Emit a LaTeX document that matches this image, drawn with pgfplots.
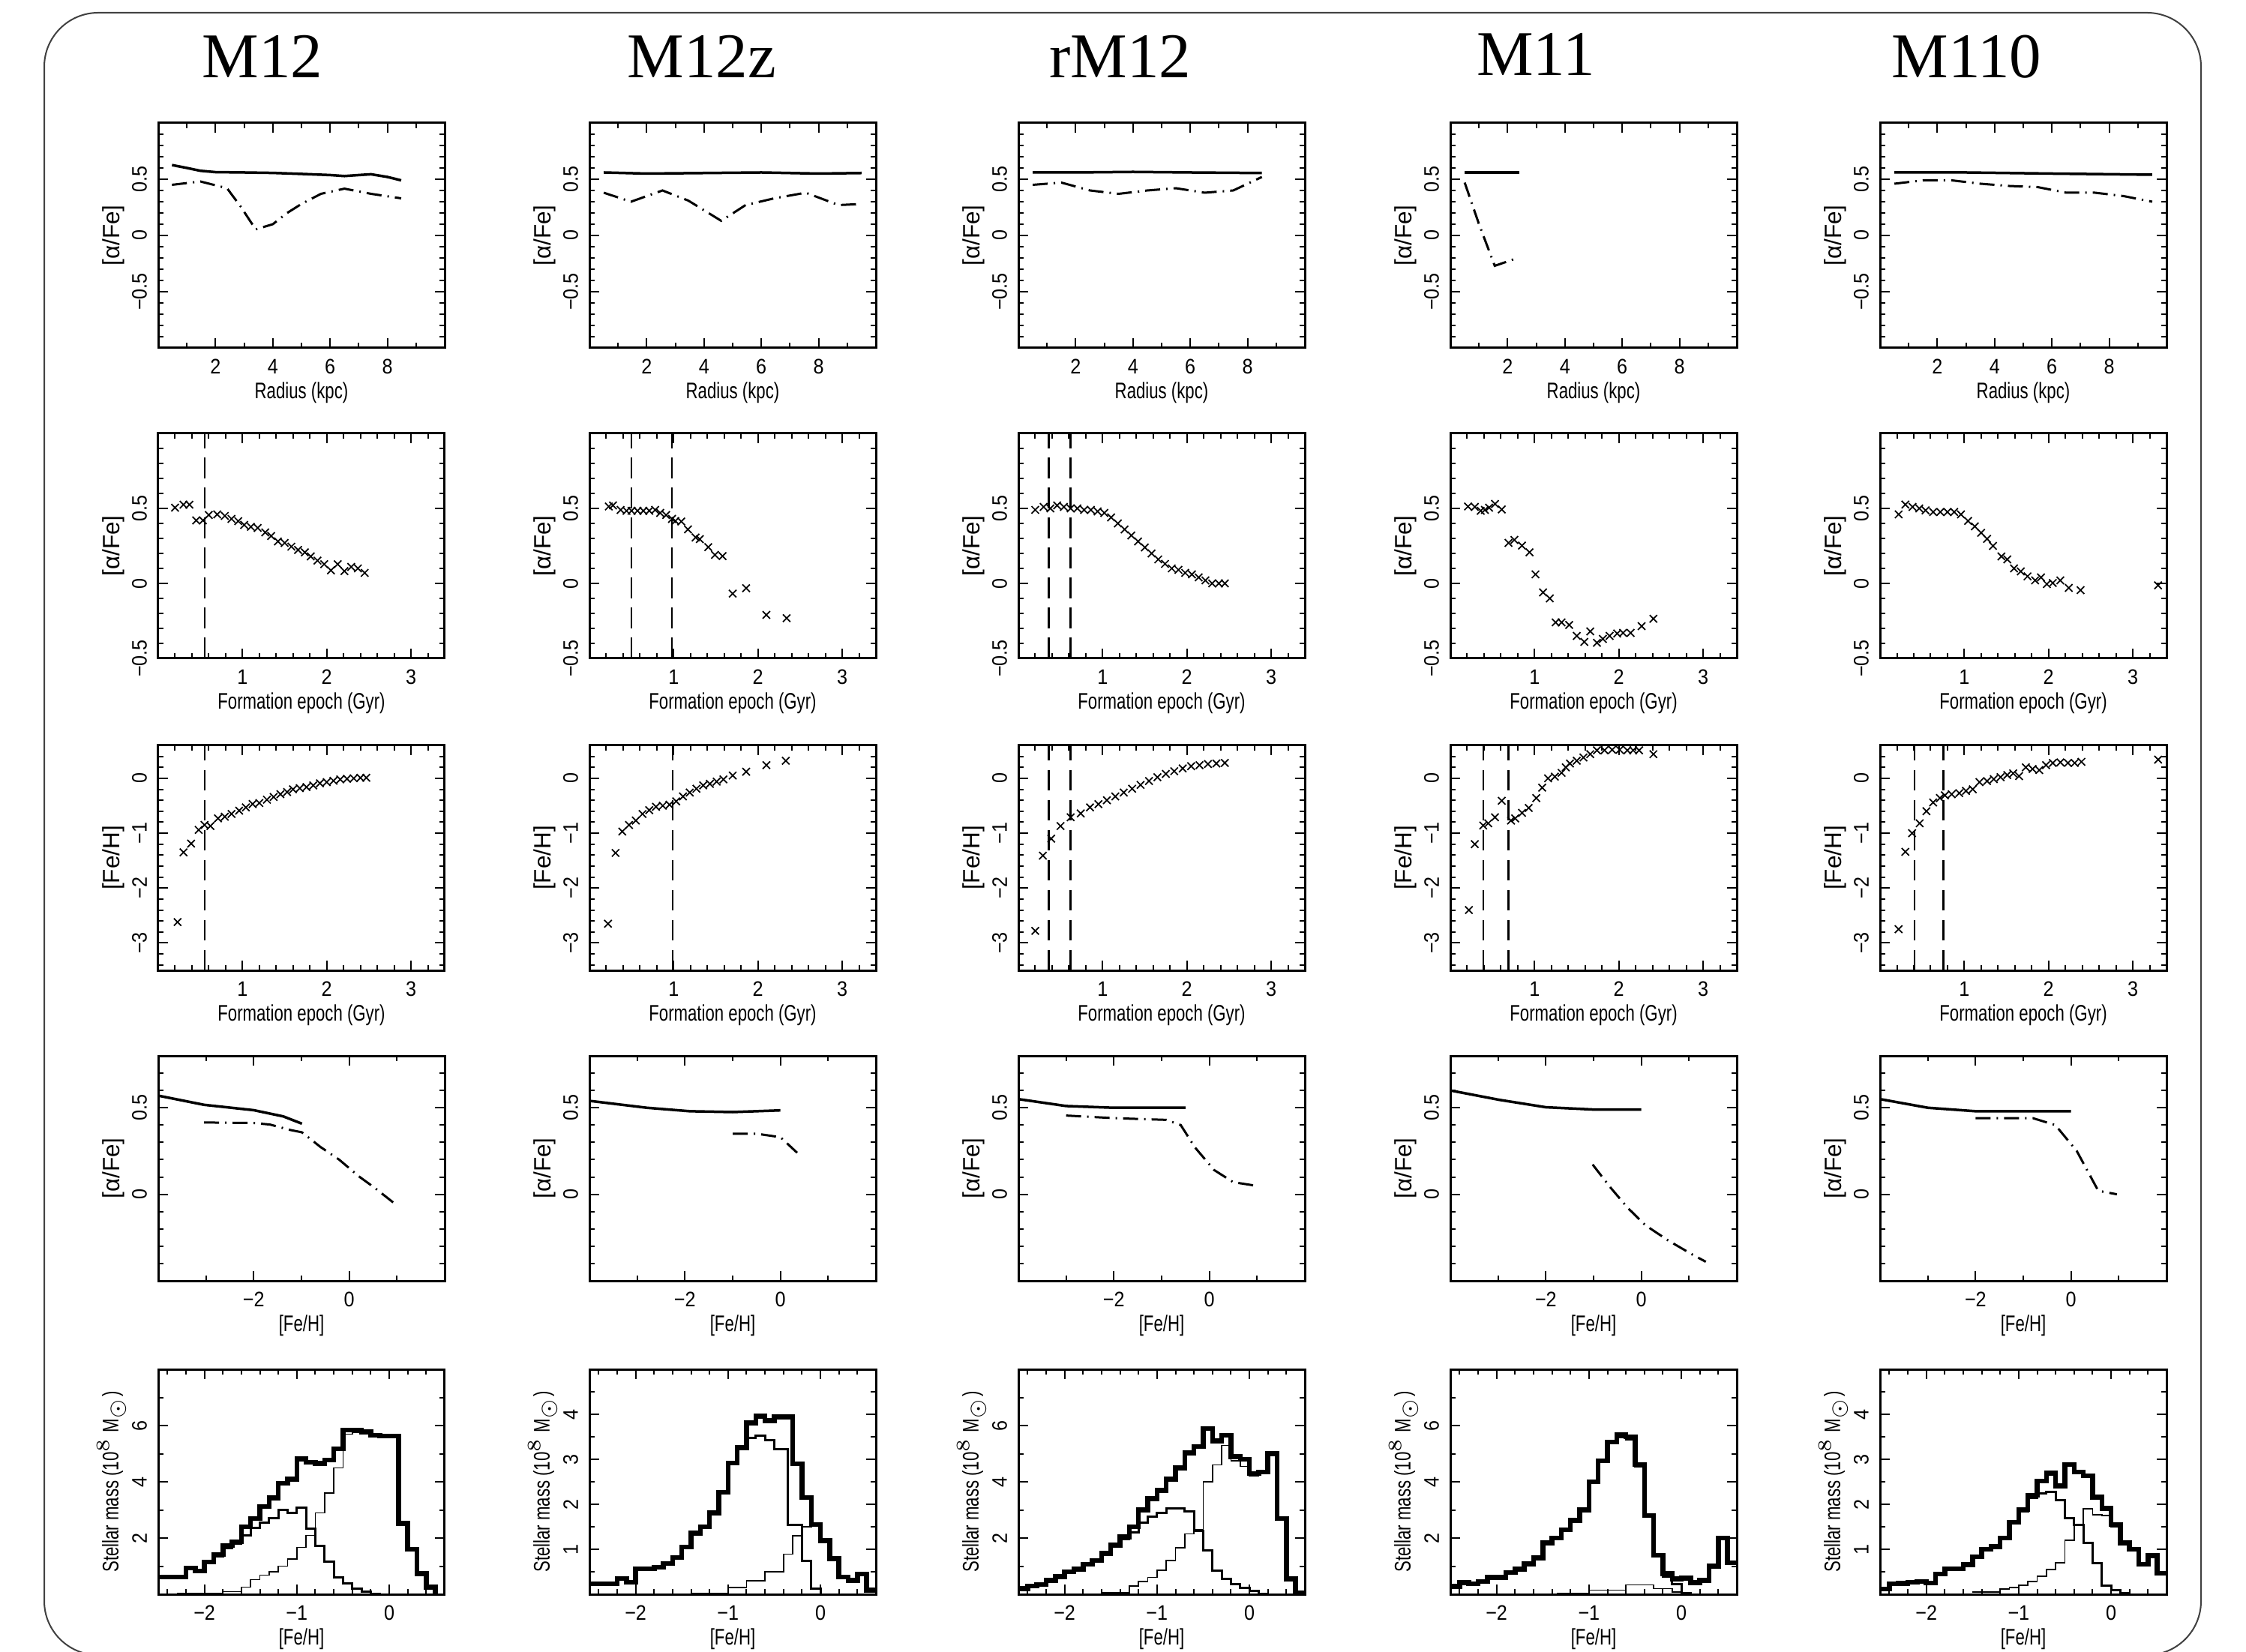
\documentclass[border=0pt]{standalone}
\usepackage{fontspec}
\setmainfont{Liberation Sans}
\newfontfamily\seriffont{Liberation Serif}
\newfontfamily\narrow[FakeStretch=0.74]{Liberation Sans}
\newfontfamily\ticknarrow[FakeStretch=0.9]{Liberation Sans}
\usepackage{pgfplots}
\pgfplotsset{compat=1.18}
\newcommand\tickfont{\ticknarrow\fontsize{5.6}{6}\selectfont}
\newcommand\xlabfont{\narrow\fontsize{6}{7}\selectfont}
\newcommand\ylabfont{\fontsize{6.3}{7}\selectfont}
\def\cA{42.2pt}\def\cB{157.2pt}\def\cC{271.6pt}\def\cD{386.8pt}\def\cE{501.4pt}
\def\rA{-32.8pt}\def\rB{-115.6pt}\def\rC{-198.8pt}\def\rD{-281.6pt}\def\rE{-365.2pt}
\pgfplotsset{
 panel/.style={
   scale only axis, width=76.4pt, height=60pt, anchor=north west,
   axis line style={line width=0.6pt},
   tick style={line width=0.4pt, black},
   major tick length=2.6pt, minor tick length=1.4pt,
   tick align=inside, tick pos=both,
   tick label style={font=\tickfont},
   xticklabel style={anchor=center, yshift=-5pt},
   yticklabel style={xshift=-5pt, rotate=90, anchor=center},
   xlabel style={font=\xlabfont, at={(axis description cs:0.5,0)}, anchor=center, yshift=-12pt},
   ylabel style={font=\ylabfont, at={(axis description cs:-0.155,0.5)}, anchor=center},
   clip=true},
 r1/.style={panel, xmin=0, xmax=10, ymin=-1, ymax=1,
   xtick={2,4,6,8}, xticklabels={2,4,6,8}, minor xtick={1,3,5,7,9},
   ytick={-0.5,0,0.5}, yticklabels={−0.5,0,0.5}, minor ytick={-0.9,-0.8,...,0.95},
   xlabel={Radius (kpc)}, ylabel={[α/Fe]}},
 r2/.style={panel, xmin=0, xmax=3.4, ymin=-0.5, ymax=1,
   xtick={1,2,3}, xticklabels={1,2,3}, minor xtick={0.2,0.4,...,3.3},
   ytick={-0.5,0,0.5}, yticklabels={−0.5,0,0.5}, minor ytick={-0.4,-0.3,...,0.95},
   xlabel={Formation epoch (Gyr)}, ylabel={[α/Fe]}},
 r3/.style={panel, xmin=0, xmax=3.4, ymin=-3.5, ymax=0.6,
   xtick={1,2,3}, xticklabels={1,2,3}, minor xtick={0.2,0.4,...,3.3},
   ytick={-3,-2,-1,0}, yticklabels={−3,−2,−1,0}, minor ytick={-3.4,-3.2,...,0.5},
   xlabel={Formation epoch (Gyr)}, ylabel={[Fe/H]}},
 r4/.style={panel, xmin=-4, xmax=2, ymin=-0.5, ymax=0.8,
   xtick={-2,0}, xticklabels={−2,0}, minor xtick={-3,-1,1},
   ytick={0,0.5}, yticklabels={0,0.5}, minor ytick={-0.4,-0.3,...,0.75},
   xlabel={[Fe/H]}, ylabel={[α/Fe]}},
 r5/.style={panel, xmin=-2.5, xmax=0.6, ymin=0,
   xtick={-2,-1,0}, xticklabels={−2,−1,0}, minor xtick={-2.4,-2.2,...,0.5},
   xlabel={[Fe/H]}, ylabel={Stellar mass (10$^8$ M$_\odot$)},
   ylabel style={font=\narrow\fontsize{6}{7}\selectfont, at={(axis description cs:-0.163,0.5)}}},
 r5a/.style={r5, ymax=8, ytick={2,4,6}, yticklabels={2,4,6}, minor ytick={1,3,5,7}},
 r5b/.style={r5, ymax=5, ytick={1,2,3,4}, yticklabels={1,2,3,4}, minor ytick={0.5,1.5,...,4.6}},
 solidl/.style={black, line width=0.7pt},
 dashdot/.style={black, line width=0.6pt, dash pattern=on 4pt off 1.6pt on 0.4pt off 1.6pt},
 vdash/.style={black, line width=0.5pt, dash pattern=on 5.5pt off 2.5pt},
 crosses/.style={black, only marks, mark=x, mark size=1.4pt, mark options={line width=0.35pt}},
 hthick/.style={black, const plot mark left, line width=1.3pt},
 hmed/.style={black, const plot mark left, line width=0.6pt},
 hthin/.style={black, const plot mark left, line width=0.3pt},
}
\begin{document}
\begin{tikzpicture}
\useasboundingbox (0,0) rectangle (599pt,-440.6pt);
\fill[white] (0,0) rectangle (599pt,-440.6pt);
\draw[black!75, line width=0.4pt, rounded corners=14.4pt] (11.8pt,-3.4pt) rectangle (587pt,-441.4pt);
\begin{scope}[every node/.style={font=\seriffont\fontsize{17}{20}\selectfont, anchor=base}]
\node at (70pt,-20.8pt) {M12};
\node at (187.2pt,-20.8pt) {M12z};
\node at (298.8pt,-20.8pt) {rM12};
\node at (409.6pt,-20.2pt) {M11};
\node at (524.5pt,-20.8pt) {M110};
\end{scope}

% ---------------- Row 1 ----------------
\begin{axis}[r1, at={(\cA,\rA)}]
\addplot[solidl] coordinates {(0.48,0.626) (1.0,0.6) (1.47,0.575) (2,0.563) (3,0.56) (4,0.556) (5,0.547) (6,0.537) (6.5,0.528) (7,0.537) (7.43,0.544) (8,0.52) (8.48,0.49)};
\addplot[dashdot] coordinates {(0.48,0.45) (1.47,0.48) (2.4,0.42) (2.87,0.26) (3.4,0.054) (4.0,0.1) (4.5,0.2) (5.0,0.28) (5.68,0.37) (6.5,0.416) (7.43,0.37) (8.48,0.33)};
\end{axis}
\begin{axis}[r1, at={(\cB,\rA)}]
\addplot[solidl] coordinates {(0.5,0.56) (2,0.55) (4,0.555) (6,0.56) (8,0.55) (9.5,0.555)};
\addplot[dashdot] coordinates {(0.5,0.38) (1.45,0.3) (2.55,0.4) (3.45,0.31) (4.6,0.13) (5.45,0.27) (6.45,0.33) (7.55,0.38) (8.7,0.27) (9.5,0.28)};
\end{axis}
\begin{axis}[r1, at={(\cC,\rA)}]
\addplot[solidl] coordinates {(0.5,0.56) (2,0.56) (4,0.565) (6,0.56) (8.5,0.555)};
\addplot[dashdot] coordinates {(0.5,0.45) (1.5,0.47) (2.5,0.4) (3.5,0.37) (4.5,0.4) (5.5,0.42) (6.5,0.38) (7.5,0.4) (8.5,0.52)};
\end{axis}
\begin{axis}[r1, at={(\cD,\rA)}]
\addplot[solidl] coordinates {(0.5,0.56) (2.4,0.56)};
\addplot[dashdot] coordinates {(0.5,0.47) (1.0,0.1) (1.55,-0.27) (2.35,-0.2)};
\end{axis}
\begin{axis}[r1, at={(\cE,\rA)}]
\addplot[solidl] coordinates {(0.5,0.56) (3,0.56) (6,0.55) (9.5,0.54)};
\addplot[dashdot] coordinates {(0.5,0.46) (1.5,0.49) (2.5,0.49) (3.5,0.46) (4.5,0.44) (5.5,0.43) (6.5,0.38) (7.5,0.38) (8.5,0.35) (9.5,0.3)};
\end{axis}

% ---------------- Row 2 ----------------
\begin{axis}[r2, at={(\cA,\rB)}]
\addplot[vdash] coordinates {(0.55,-0.5) (0.55,1)};
\addplot[crosses] coordinates {(0.2,0.505)(0.3,0.525)(0.37,0.525)(0.45,0.42)(0.53,0.42)(0.6,0.456)(0.7,0.46)(0.79,0.45)(0.87,0.43)(0.95,0.415)(1.02,0.39)(1.1,0.377)(1.18,0.37)(1.27,0.34)(1.34,0.316)(1.42,0.28)(1.5,0.27)(1.58,0.245)(1.66,0.223)(1.74,0.207)(1.81,0.18)(1.89,0.152)(1.97,0.128)(2.05,0.087)(2.13,0.128)(2.21,0.082)(2.29,0.11)(2.37,0.1)(2.45,0.07)};
\end{axis}
\begin{axis}[r2, at={(\cB,\rB)}]
\addplot[vdash] coordinates {(0.5,-0.5) (0.5,1)};
\addplot[vdash] coordinates {(0.98,-0.5) (0.98,1)};
\addplot[crosses] coordinates {(0.23,0.513)(0.28,0.52)(0.37,0.49)(0.44,0.484)(0.5,0.484)(0.57,0.484)(0.64,0.484)(0.71,0.484)(0.78,0.49)(0.84,0.47)(0.91,0.456)(0.98,0.43)(1.02,0.416)(1.09,0.413)(1.17,0.36)(1.26,0.306)(1.31,0.295)(1.41,0.242)(1.49,0.19)(1.58,0.182)(1.7,-0.068)(1.86,-0.032)(2.1,-0.21)(2.34,-0.232)};
\end{axis}
\begin{axis}[r2, at={(\cC,\rB)}]
\addplot[vdash] coordinates {(0.36,-0.5) (0.36,1)};
\addplot[vdash] coordinates {(0.62,-0.5) (0.62,1)};
\addplot[crosses] coordinates {(0.2,0.49)(0.3,0.51)(0.38,0.5)(0.46,0.52)(0.54,0.51)(0.62,0.5)(0.7,0.5)(0.78,0.49)(0.86,0.49)(0.94,0.48)(1.02,0.47)(1.1,0.44)(1.18,0.4)(1.26,0.36)(1.34,0.32)(1.42,0.28)(1.5,0.24)(1.58,0.2)(1.66,0.16)(1.74,0.13)(1.82,0.1)(1.9,0.09)(1.98,0.07)(2.06,0.06)(2.14,0.04)(2.22,0.02)(2.3,0.0)(2.38,0.0)(2.45,0.0)};
\end{axis}
\begin{axis}[r2, at={(\cD,\rB)}]
\addplot[crosses] coordinates {(0.21,0.513)(0.29,0.51)(0.36,0.484)(0.41,0.49)(0.46,0.505)(0.53,0.53)(0.61,0.493)(0.69,0.27)(0.76,0.29)(0.85,0.252)(0.94,0.207)(1.01,0.06)(1.1,-0.06)(1.18,-0.1)(1.25,-0.26)(1.32,-0.26)(1.41,-0.277)(1.5,-0.35)(1.59,-0.39)(1.66,-0.32)(1.74,-0.396)(1.81,-0.37)(1.89,-0.35)(1.98,-0.334)(2.05,-0.33)(2.14,-0.33)(2.27,-0.285)(2.41,-0.236)};
\end{axis}
\begin{axis}[r2, at={(\cE,\rB)}]
\addplot[crosses] coordinates {(0.22,0.46)(0.3,0.526)(0.385,0.51)(0.465,0.5)(0.54,0.487)(0.63,0.476)(0.715,0.476)(0.8,0.476)(0.88,0.476)(0.96,0.46)(1.045,0.416)(1.125,0.38)(1.2,0.337)(1.27,0.297)(1.34,0.25)(1.44,0.18)(1.51,0.16)(1.59,0.1)(1.67,0.08)(1.75,0.047)(1.84,0.02)(1.91,0.04)(1.98,-0.005)(2.05,0.003)(2.14,0.02)(2.24,-0.03)(2.38,-0.045)(3.3,-0.013)};
\end{axis}

% ---------------- Row 3 ----------------
\begin{axis}[r3, at={(\cA,\rC)}]
\addplot[vdash] coordinates {(0.55,-3.5) (0.55,0.6)};
\addplot[crosses] coordinates {(0.23,-2.62)(0.3,-1.35)(0.39,-1.19)(0.48,-0.94)(0.55,-0.85)(0.62,-0.87)(0.71,-0.73)(0.79,-0.7)(0.87,-0.65)(0.96,-0.59)(1.04,-0.53)(1.12,-0.47)(1.2,-0.45)(1.29,-0.39)(1.37,-0.34)(1.45,-0.29)(1.53,-0.25)(1.6,-0.2)(1.68,-0.18)(1.76,-0.16)(1.84,-0.13)(1.92,-0.09)(2.0,-0.07)(2.08,-0.045)(2.16,-0.02)(2.24,-0.01)(2.32,0)(2.4,0.01)(2.47,0.01)};
\end{axis}
\begin{axis}[r3, at={(\cB,\rC)}]
\addplot[vdash] coordinates {(0.99,-3.5) (0.99,0.6)};
\addplot[crosses] coordinates {(0.22,-2.65)(0.31,-1.36)(0.39,-0.97)(0.47,-0.85)(0.55,-0.77)(0.63,-0.65)(0.71,-0.58)(0.79,-0.52)(0.87,-0.5)(0.95,-0.48)(1.03,-0.42)(1.11,-0.33)(1.19,-0.26)(1.27,-0.19)(1.35,-0.13)(1.43,-0.1)(1.51,-0.06)(1.59,-0.02)(1.7,0.05)(1.86,0.12)(2.1,0.24)(2.33,0.32)};
\end{axis}
\begin{axis}[r3, at={(\cC,\rC)}]
\addplot[vdash] coordinates {(0.36,-3.5) (0.36,0.6)};
\addplot[vdash] coordinates {(0.62,-3.5) (0.62,0.6)};
\addplot[crosses] coordinates {(0.2,-2.78)(0.29,-1.41)(0.39,-1.1)(0.5,-0.87)(0.62,-0.71)(0.74,-0.64)(0.85,-0.53)(0.95,-0.47)(1.05,-0.4)(1.15,-0.33)(1.25,-0.26)(1.35,-0.19)(1.45,-0.12)(1.55,-0.05)(1.65,0.02)(1.75,0.08)(1.85,0.13)(1.95,0.18)(2.05,0.22)(2.15,0.24)(2.25,0.26)(2.35,0.27)(2.45,0.28)};
\end{axis}
\begin{axis}[r3, at={(\cD,\rC)}]
\addplot[vdash] coordinates {(0.39,-3.5) (0.39,0.6)};
\addplot[vdash] coordinates {(0.69,-3.5) (0.69,0.6)};
\addplot[crosses] coordinates {(0.22,-2.4)(0.29,-1.2)(0.39,-0.86)(0.45,-0.82)(0.53,-0.71)(0.61,-0.41)(0.72,-0.77)(0.77,-0.73)(0.85,-0.63)(0.93,-0.54)(1.02,-0.36)(1.09,-0.17)(1.16,0)(1.24,0.03)(1.32,0.1)(1.37,0.2)(1.42,0.27)(1.5,0.32)(1.58,0.38)(1.66,0.44)(1.74,0.51)(1.83,0.51)(1.92,0.52)(2.01,0.52)(2.1,0.51)(2.17,0.51)(2.24,0.51)(2.41,0.44)};
\end{axis}
\begin{axis}[r3, at={(\cE,\rC)}]
\addplot[vdash] coordinates {(0.41,-3.5) (0.41,0.6)};
\addplot[vdash] coordinates {(0.75,-3.5) (0.75,0.6)};
\addplot[crosses] coordinates {(0.22,-2.75)(0.3,-1.34)(0.38,-1.0)(0.47,-0.82)(0.55,-0.6)(0.63,-0.44)(0.71,-0.36)(0.77,-0.31)(0.85,-0.29)(0.94,-0.27)(1.02,-0.23)(1.1,-0.2)(1.18,-0.07)(1.27,-0.05)(1.35,-0.015)(1.43,0.02)(1.51,0.06)(1.58,0.09)(1.65,0.04)(1.73,0.2)(1.81,0.17)(1.89,0.15)(1.97,0.24)(2.05,0.28)(2.14,0.29)(2.23,0.28)(2.31,0.28)(2.39,0.3)(3.3,0.34)};
\end{axis}

% ---------------- Row 4 ----------------
\begin{axis}[r4, at={(\cA,\rD)}]
\addplot[solidl] coordinates {(-4,0.57) (-3.04,0.517) (-2,0.486) (-1.38,0.45) (-0.99,0.408)};
\addplot[dashdot] coordinates {(-3.04,0.415) (-2.01,0.412) (-1.66,0.403) (-1.24,0.372) (-0.99,0.358) (-0.6,0.273) (-0.21,0.2) (0.21,0.102) (0.53,0.038) (0.92,-0.047)};
\end{axis}
\begin{axis}[r4, at={(\cB,\rD)}]
\addplot[solidl] coordinates {(-4,0.54) (-2.8,0.5) (-1.9,0.48) (-1,0.475) (0,0.485)};
\addplot[dashdot] coordinates {(-1,0.35) (-0.5,0.35) (0,0.33) (0.35,0.24)};
\end{axis}
\begin{axis}[r4, at={(\cC,\rD)}]
\addplot[solidl] coordinates {(-4,0.55) (-3,0.51) (-2,0.5) (-0.5,0.5)};
\addplot[dashdot] coordinates {(-3,0.455) (-2,0.44) (-0.9,0.43) (-0.6,0.4) (-0.3,0.27) (0.1,0.14) (0.5,0.07) (0.96,0.05)};
\end{axis}
\begin{axis}[r4, at={(\cD,\rD)}]
\addplot[solidl] coordinates {(-4,0.6) (-2.98,0.546) (-2,0.503) (-1.02,0.49) (0,0.49)};
\addplot[dashdot] coordinates {(-1.02,0.172) (-0.65,0.04) (-0.28,-0.08) (0.09,-0.18) (0.58,-0.27) (1.08,-0.35) (1.35,-0.39)};
\end{axis}
\begin{axis}[r4, at={(\cE,\rD)}]
\addplot[solidl] coordinates {(-4,0.55) (-3,0.5) (-2,0.48) (0,0.48)};
\addplot[dashdot] coordinates {(-2,0.44) (-0.8,0.44) (-0.33,0.4) (0.12,0.25) (0.57,0.02) (0.96,0.0)};
\end{axis}

% ---------------- Row 5 ----------------
\begin{axis}[r5a, at={(\cA,\rE)}]
\addplot[hthin] coordinates {(-2.3,0.03) (-1.8,0.1) (-1.6,0.25) (-1.5,0.52) (-1.4,0.68) (-1.3,0.8) (-1.2,1.0) (-1.1,1.25) (-1.0,1.67) (-0.9,2.1) (-0.8,2.9) (-0.7,3.6) (-0.6,4.5) (-0.5,5.7) (-0.4,5.75) (-0.3,5.7) (-0.2,5.6) (-0.1,5.58) (0.0,5.58) (0.1,2.5) (0.2,1.6) (0.3,0.74) (0.4,0.25) (0.5,0)};
\addplot[hmed] coordinates {(-2.5,0.6) (-2.2,0.9) (-2.1,0.8) (-2.0,1.1) (-1.9,1.35) (-1.8,1.65) (-1.7,1.8) (-1.6,2.1) (-1.5,2.36) (-1.4,2.54) (-1.3,2.7) (-1.2,2.99) (-1.1,2.9) (-1.0,3.08) (-0.9,2.34) (-0.8,1.73) (-0.7,1.15) (-0.6,0.61) (-0.5,0.4) (-0.4,0.2) (-0.3,0.1) (-0.2,0.02) (-0.1,0)};
\addplot[hthick] coordinates {(-2.5,0.61) (-2.2,0.94) (-2.1,0.83) (-2.0,1.15) (-1.9,1.42) (-1.8,1.73) (-1.7,1.87) (-1.6,2.4) (-1.5,2.7) (-1.4,3.12) (-1.3,3.43) (-1.2,3.95) (-1.1,4.1) (-1.0,4.82) (-0.9,4.69) (-0.8,4.65) (-0.7,4.78) (-0.6,5.18) (-0.5,5.84) (-0.4,5.84) (-0.3,5.77) (-0.2,5.66) (-0.1,5.63) (0.0,5.63) (0.1,2.52) (0.2,1.6) (0.3,0.74) (0.4,0.25) (0.5,0)};
\end{axis}
\begin{axis}[r5b, at={(\cB,\rE)}]
\addplot[hthin] coordinates {(-1.4,0.02) (-1.0,0.15) (-0.8,0.3) (-0.6,0.5) (-0.4,0.89) (-0.3,1.3) (-0.2,1.5) (-0.1,1.55) (0,1.19) (0.1,0.79) (0.2,0.38) (0.3,0.31) (0.4,0.45) (0.5,0.09) (0.6,0.09)};
\addplot[hmed] coordinates {(-2.5,0.21) (-2.2,0.33) (-2.1,0.25) (-2.0,0.55) (-1.9,0.55) (-1.8,0.58) (-1.7,0.66) (-1.6,0.8) (-1.5,1.03) (-1.4,1.34) (-1.3,1.48) (-1.2,1.79) (-1.1,2.25) (-1.0,2.9) (-0.9,3.22) (-0.8,3.47) (-0.7,3.52) (-0.6,3.42) (-0.5,3.22) (-0.35,1.55) (-0.2,0.75) (-0.1,0.12) (0,0)};
\addplot[hthick] coordinates {(-2.5,0.23) (-2.2,0.35) (-2.1,0.27) (-2.0,0.57) (-1.9,0.57) (-1.8,0.6) (-1.7,0.68) (-1.6,0.82) (-1.5,1.05) (-1.4,1.36) (-1.3,1.5) (-1.2,1.81) (-1.1,2.27) (-1.0,2.92) (-0.9,3.26) (-0.8,3.81) (-0.7,3.96) (-0.6,3.86) (-0.5,3.94) (-0.4,3.94) (-0.3,2.9) (-0.2,2.15) (-0.1,1.55) (0.0,1.19) (0.1,0.79) (0.2,0.38) (0.3,0.31) (0.4,0.45) (0.5,0.09) (0.6,0.09)};
\end{axis}
\begin{axis}[r5a, at={(\cC,\rE)}]
\addplot[hthin] coordinates {(-1.6,0.05) (-1.3,0.3) (-1.2,0.45) (-1.1,0.6) (-1.0,0.85) (-0.9,1.2) (-0.8,1.65) (-0.7,2.15) (-0.6,2.3) (-0.5,4.0) (-0.4,4.6) (-0.3,5.3) (-0.2,4.75) (-0.1,4.55) (0.0,4.2) (0.1,4.3) (0.2,4.95) (0.3,2.7) (0.4,0.55) (0.5,0.05) (0.6,0.05)};
\addplot[hmed] coordinates {(-2.5,0.18) (-2.4,0.28) (-2.3,0.33) (-2.2,0.48) (-2.1,0.6) (-2.0,0.77) (-1.9,0.87) (-1.8,1.03) (-1.7,1.15) (-1.6,1.4) (-1.5,1.7) (-1.4,1.95) (-1.3,2.2) (-1.2,2.55) (-1.1,2.75) (-1.0,2.9) (-0.9,3.05) (-0.8,3.05) (-0.7,2.95) (-0.6,2.26) (-0.5,1.56) (-0.4,0.85) (-0.3,0.55) (-0.2,0.37) (-0.1,0.24) (0.0,0.13) (0.1,0.02) (0.2,0)};
\addplot[hthick] coordinates {(-2.5,0.2) (-2.4,0.3) (-2.3,0.35) (-2.2,0.5) (-2.1,0.63) (-2.0,0.8) (-1.9,0.9) (-1.8,1.07) (-1.7,1.2) (-1.6,1.45) (-1.5,1.75) (-1.4,2.04) (-1.3,2.4) (-1.2,3.0) (-1.1,3.4) (-1.0,3.7) (-0.9,4.1) (-0.8,4.5) (-0.7,5.03) (-0.6,5.25) (-0.5,5.9) (-0.4,5.45) (-0.3,5.65) (-0.2,4.9) (-0.1,4.8) (0.0,4.3) (0.1,4.35) (0.2,5.0) (0.3,2.7) (0.4,0.55) (0.5,0.05) (0.6,0.05)};
\end{axis}
\begin{axis}[r5a, at={(\cD,\rE)}]
\addplot[hthin] coordinates {(-1.35,0.03) (-1.0,0.15) (-0.6,0.33) (-0.3,0.2) (-0.1,0.08) (0.0,0.0)};
\addplot[hmed] coordinates {(-2.5,0.28) (-2.4,0.42) (-2.3,0.37) (-2.2,0.46) (-2.1,0.6) (-2.0,0.6) (-1.9,0.77) (-1.8,0.9) (-1.7,1.08) (-1.6,1.3) (-1.5,1.83) (-1.4,2.0) (-1.3,2.3) (-1.2,2.63) (-1.1,3.0) (-1.0,4.0) (-0.9,4.75) (-0.8,5.42) (-0.7,5.6) (-0.6,5.5) (-0.5,4.55) (-0.4,2.75) (-0.3,1.35) (-0.2,0.62) (-0.1,0.35) (0,0.05) (0.1,0)};
\addplot[hthick] coordinates {(-2.5,0.28) (-2.4,0.42) (-2.3,0.37) (-2.2,0.46) (-2.1,0.6) (-2.0,0.6) (-1.9,0.77) (-1.8,0.9) (-1.7,1.08) (-1.6,1.3) (-1.5,1.83) (-1.4,2.0) (-1.3,2.3) (-1.2,2.63) (-1.1,3.0) (-1.0,4.0) (-0.9,4.75) (-0.8,5.42) (-0.7,5.68) (-0.6,5.6) (-0.5,4.62) (-0.4,2.8) (-0.3,1.39) (-0.2,0.73) (-0.1,0.55) (0.0,0.58) (0.1,0.42) (0.2,0.5) (0.3,1.0) (0.4,2.0) (0.5,1.12) (0.6,1.12)};
\end{axis}
\begin{axis}[r5b, at={(\cE,\rE)}]
\addplot[hthin] coordinates {(-1.5,0.05) (-1.2,0.12) (-1.1,0.15) (-1.0,0.2) (-0.9,0.28) (-0.8,0.4) (-0.7,0.55) (-0.6,0.7) (-0.5,1.2) (-0.4,1.55) (-0.3,1.9) (-0.2,1.77) (-0.1,1.75) (0.0,1.5) (0.1,1.14) (0.2,1.0) (0.3,0.67) (0.4,0.86) (0.5,0.47) (0.6,0.47)};
\addplot[hmed] coordinates {(-2.5,0.1) (-2.4,0.21) (-2.3,0.22) (-2.2,0.25) (-2.1,0.26) (-2.0,0.23) (-1.9,0.43) (-1.8,0.55) (-1.7,0.55) (-1.6,0.64) (-1.5,0.81) (-1.4,0.98) (-1.3,1.04) (-1.2,1.23) (-1.1,1.58) (-1.0,1.85) (-0.9,2.15) (-0.8,2.25) (-0.7,2.27) (-0.6,2.1) (-0.5,1.69) (-0.4,1.55) (-0.3,1.14) (-0.2,0.7) (-0.1,0.2) (0,0.09) (0.1,0.02) (0.2,0)};
\addplot[hthick] coordinates {(-2.5,0.12) (-2.4,0.23) (-2.3,0.24) (-2.2,0.27) (-2.1,0.28) (-2.0,0.25) (-1.9,0.45) (-1.8,0.57) (-1.7,0.57) (-1.6,0.66) (-1.5,0.83) (-1.4,1.0) (-1.3,1.06) (-1.2,1.25) (-1.1,1.6) (-1.0,1.88) (-0.9,2.2) (-0.8,2.52) (-0.7,2.69) (-0.6,2.41) (-0.5,2.88) (-0.4,2.72) (-0.3,2.63) (-0.2,2.16) (-0.1,1.91) (0.0,1.55) (0.1,1.14) (0.2,1.0) (0.3,0.67) (0.4,0.86) (0.5,0.47) (0.6,0.47)};
\end{axis}
\end{tikzpicture}
\end{document}
